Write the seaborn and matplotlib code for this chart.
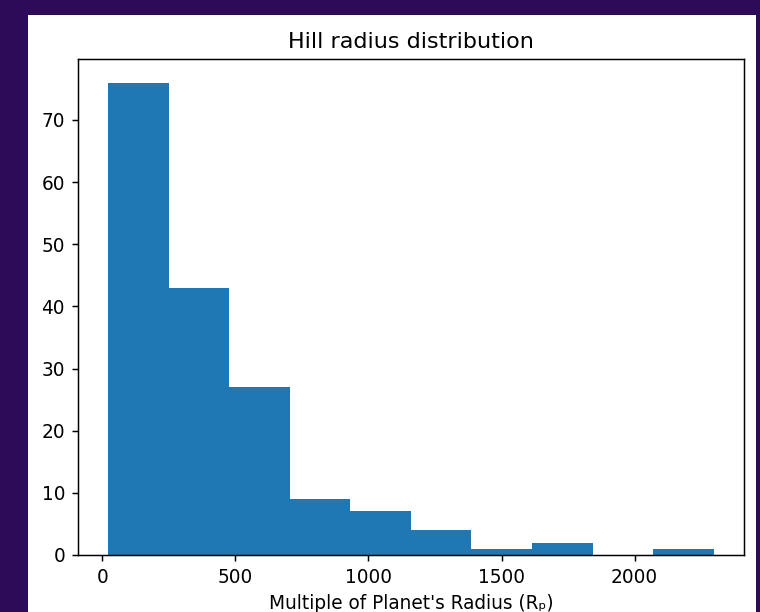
import matplotlib
matplotlib.use("Agg")
import matplotlib.pyplot as plt
import seaborn as sns
import numpy as np
from matplotlib.patches import Rectangle

# Histogram data
bin_edges = [23, 250, 478, 705, 932, 1160, 1387, 1615, 1842, 2070, 2297]
counts = [76, 43, 27, 9, 7, 4, 1, 2, 0, 1]
title = "Hill radius distribution"
xlabel = "Multiple of Planet's Radius (R\u209a)"

bin_centers = [(a + b) / 2 for a, b in zip(bin_edges[:-1], bin_edges[1:])]

s = 4 / 3  # reference rendered at ~133 dpi
plt.rcParams.update({
    "font.size": 10 * s,
    "axes.linewidth": 0.8 * s,
    "xtick.major.size": 3.5 * s,
    "ytick.major.size": 3.5 * s,
    "xtick.major.width": 0.8 * s,
    "ytick.major.width": 0.8 * s,
    "xtick.major.pad": 3.5 * s,
    "ytick.major.pad": 3.5 * s,
    "axes.titlepad": 6 * s,
    "axes.labelpad": 4 * s,
})

fig = plt.figure(figsize=(7.6, 6.12), dpi=100, facecolor="#2d0b59")
bg = Rectangle((28 / 760, 0), (756 - 28) / 760, 1 - 15 / 612,
               transform=fig.transFigure, facecolor="white",
               edgecolor="none", zorder=-10)
fig.add_artist(bg)

ax = fig.add_axes([78 / 760, 1 - 555 / 612, (744 - 78) / 760, (555 - 59) / 612])
ax.set_zorder(1)
sns.histplot(x=bin_centers, weights=counts, bins=bin_edges, ax=ax,
             color="#1f77b4", alpha=1.0, linewidth=0, edgecolor="none")
ax.set_title(title, fontsize=12 * s)
ax.set_xlabel(xlabel, fontsize=10 * s)
ax.set_ylabel("")
ax.set_xticks([0, 500, 1000, 1500, 2000])
ax.set_yticks([0, 10, 20, 30, 40, 50, 60, 70])
ax.tick_params(labelsize=10 * s)

fig.savefig("out.png", dpi=100, facecolor=fig.get_facecolor())
